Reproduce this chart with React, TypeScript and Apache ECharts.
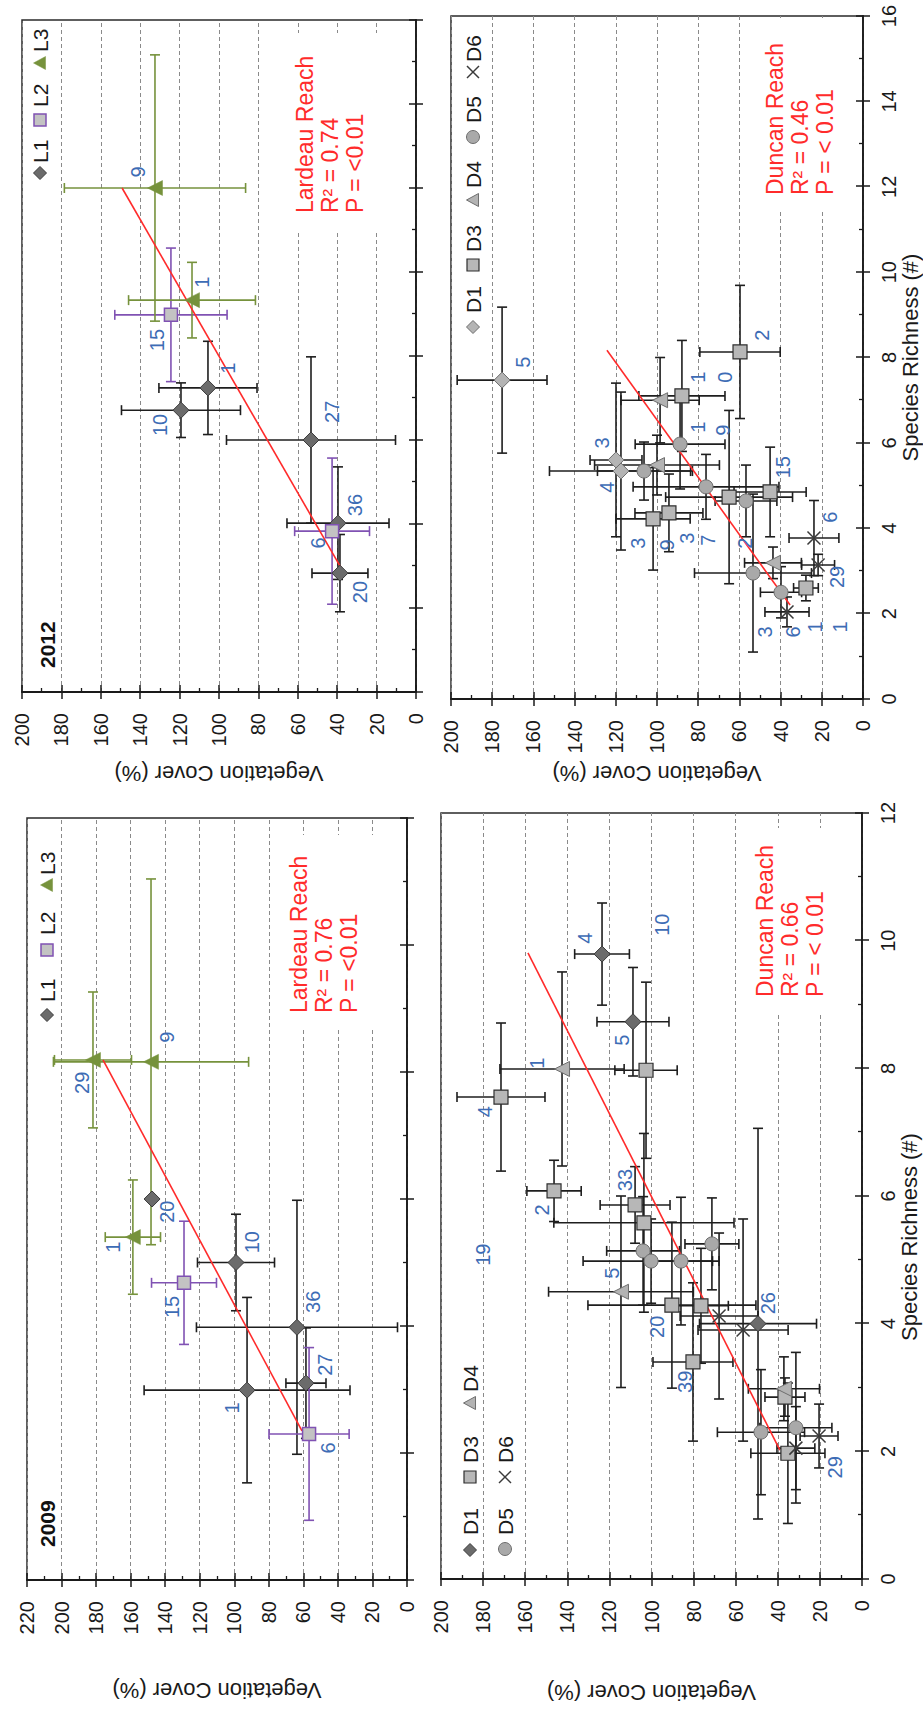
import React, { useEffect, useRef } from 'react';
import * as echarts from 'echarts';

const FONT = "'Liberation Sans', Arial, Helvetica, sans-serif";

// Figure is laid out landscape (1723 x 923) and turned a quarter turn counter-clockwise on the page.
const FIG_W = 1723;
const FIG_H = 923;

// Each row: [species richness (#), vegetation cover (%), richness SD, cover SD]
const lardeau2009L1 = [
  [6.0, 147.6, 0, 0],
  [5.0, 99.0, 0.76, 22.3],
  [3.98, 63.7, 2.0, 58.2],
  [2.99, 92.6, 1.46, 59.6],
  [3.1, 58.5, 0.87, 11.6],
];
const lardeau2009L2 = [
  [4.68, 129.1, 0.97, 18.8],
  [2.3, 56.7, 1.36, 23.2],
];
const lardeau2009L3 = [
  [8.19, 181.8, 1.07, 22.3],
  [8.16, 148.2, 2.88, 56.5],
  [5.4, 158.7, 0.9, 16.0],
];
// Plot counts: [richness, cover, text]
const lardeau2009Counts: [number, number, string][] = [
  [7.83, 188.2, '29'], [8.55, 138.9, '9'], [5.8, 138.9, '20'], [5.24, 170.2, '1'],
  [4.3, 136.0, '15'], [5.32, 89.7, '10'], [4.38, 54.4, '36'], [2.71, 101.3, '1'],
  [3.39, 47.5, '27'], [2.08, 45.7, '6'],
];
const lardeau2009Fit = [[2.35, 60.8], [8.19, 176.0]];

const lardeau2012L1 = [
  [7.24, 105.6, 1.11, 24.9],
  [6.71, 119.3, 0.65, 30.2],
  [6.0, 53.3, 1.98, 42.9],
  [4.02, 39.6, 1.34, 25.9],
  [2.83, 38.6, 0.92, 14.2],
];
const lardeau2012L2 = [
  [8.98, 124.4, 1.59, 28.5],
  [3.83, 42.6, 1.74, 19.0],
];
const lardeau2012L3 = [
  [12.0, 132.5, 3.17, 46.0],
  [9.33, 113.7, 0.9, 32.2],
];
const lardeau2012Counts: [number, number, string][] = [
  [12.38, 141.1, '9'], [9.76, 108.6, '1'], [8.38, 131.5, '15'], [7.71, 95.4, '1'],
  [6.36, 130.0, '10'], [6.67, 42.6, '27'], [4.45, 31.0, '36'], [3.55, 49.7, '6'],
  [2.38, 28.4, '20'],
];
const lardeau2012Fit = [[2.83, 36.5], [12.0, 149.2]];

const duncan2009D1 = [
  [9.79, 123.5, 0.8, 13.0],
  [8.73, 108.8, 0.85, 17.1],
  [4.0, 49.4, 3.06, 27.8],
];
const duncan2009D3 = [
  [7.97, 102.6, 1.38, 14.8],
  [7.55, 171.5, 1.16, 20.9],
  [6.08, 146.3, 0.48, 12.9],
  [5.86, 107.8, 0.6, 16.6],
  [5.58, 103.6, 1.4, 42.8],
  [4.29, 90.3, 1.3, 39.9],
  [4.28, 76.5, 0.9, 13.0],
  [3.4, 80.3, 1.24, 19.0],
  [2.85, 36.6, 0.3, 9.5],
  [1.97, 35.2, 1.1, 17.6],
];
const duncan2009D4 = [
  [7.99, 142.5, 1.52, 29.5],
  [4.5, 114.5, 1.5, 34.4],
  [2.98, 37.1, 0.5, 16.9],
];
const duncan2009D5 = [
  [5.14, 104.0, 0.85, 17.3],
  [4.98, 100.2, 0.66, 32.3],
  [4.98, 86.0, 1.0, 15.0],
  [5.25, 71.3, 0.72, 12.8],
  [2.3, 48.0, 0.98, 20.7],
  [2.37, 31.4, 1.18, 17.1],
];
const duncan2009D6 = [
  [4.12, 67.9, 1.3, 18.5],
  [3.9, 56.5, 1.74, 21.4],
  [2.24, 20.4, 0.5, 9.0],
  [2.05, 31.4, 0.65, 9.0],
];
const duncan2009Counts: [number, number, string][] = [
  [10.04, 131.6, '4'], [10.25, 95.0, '10'], [8.44, 114.0, '5'], [8.08, 154.4, '1'],
  [7.32, 179.1, '4'], [5.78, 152.0, '2'], [6.25, 112.6, '33'], [5.08, 180.0, '19'],
  [4.79, 118.8, '5'], [3.95, 97.4, '20'], [4.32, 44.7, '26'], [3.09, 84.1, '39'],
  [1.75, 12.8, '29'],
];
const duncan2009Fit = [[2.02, 39.0], [9.81, 158.7]];

const duncan2012D1 = [
  [7.47, 175.2, 1.71, 21.8],
  [5.6, 119.9, 1.8, 12.6],
  [5.34, 117.5, 1.85, 34.7],
];
const duncan2012D3 = [
  [8.13, 59.7, 1.56, 19.5],
  [7.1, 87.9, 1.3, 20.9],
  [4.73, 65.0, 2.03, 30.8],
  [4.85, 45.1, 1.05, 17.5],
  [4.22, 101.9, 1.2, 18.0],
  [4.36, 94.2, 0.91, 16.5],
  [2.6, 27.7, 0.3, 6.0],
];
const duncan2012D4 = [
  [7.0, 98.5, 1.0, 19.0],
  [5.48, 100.0, 0.7, 30.3],
  [3.19, 43.7, 0.37, 13.8],
];
const duncan2012D5 = [
  [5.97, 88.8, 1.05, 21.8],
  [5.34, 106.3, 0.68, 22.6],
  [4.97, 76.2, 0.76, 35.4],
  [4.64, 56.8, 0.84, 15.0],
  [2.95, 53.4, 1.85, 28.4],
  [2.5, 39.8, 0.6, 10.0],
];
const duncan2012D6 = [
  [3.77, 23.8, 0.88, 12.1],
  [3.14, 21.8, 0.25, 8.0],
  [2.04, 36.9, 0.35, 10.7],
];
const duncan2012Counts: [number, number, string][] = [
  [7.89, 165.0, '5'], [8.52, 49.0, '2'], [7.54, 80.1, '1'], [7.54, 67.0, '0'],
  [6.37, 80.1, '1'], [6.3, 68.0, '9'], [6.0, 126.7, '3'], [4.96, 124.3, '4'],
  [5.43, 38.8, '15'], [4.26, 16.0, '6'], [3.65, 109.2, '3'], [3.61, 95.1, '9'],
  [3.77, 85.4, '3'], [3.72, 75.2, '7'], [3.65, 57.3, '2'], [2.86, 12.6, '29'],
  [1.57, 47.6, '3'], [1.57, 34.0, '6'], [1.69, 23.3, '1'], [1.69, 11.2, '1'],
];
const duncan2012Fit = [[2.2, 35.4], [8.17, 124.3]];

const reachNames = ['Lardeau Reach', 'Lardeau Reach', 'Duncan Reach', 'Duncan Reach'];
const rSquared = ['0.76', '0.74', '0.66', '0.46'];
const pValues = ['<0.01', '<0.01', '< 0.01', '< 0.01'];
const years = ['2009', '2012', '2009', '2012'];

type MarkerStyle = {
  symbol: string; size: number; fill: string; border: string; borderWidth: number; bar: string;
};

const markerStyles: Record<string, MarkerStyle> = {
  L1: { symbol: 'diamond', size: 16, fill: '#6b6b6b', border: '#3b3b3b', borderWidth: 1, bar: '#1e1e1e' },
  L2: { symbol: 'rect', size: 13, fill: '#c3c3c3', border: '#8052b3', borderWidth: 1.5, bar: '#8052b3' },
  L3: { symbol: 'triangle', size: 15, fill: '#76923c', border: '#76923c', borderWidth: 0.5, bar: '#76923c' },
  D1dark: { symbol: 'diamond', size: 16, fill: '#6b6b6b', border: '#3b3b3b', borderWidth: 1, bar: '#1e1e1e' },
  D1light: { symbol: 'diamond', size: 16, fill: '#b4b4b4', border: '#6e6e6e', borderWidth: 1, bar: '#1e1e1e' },
  D3: { symbol: 'rect', size: 14, fill: '#b7b7b7', border: '#2e2e2e', borderWidth: 1.2, bar: '#1e1e1e' },
  D4: { symbol: 'triangle', size: 15, fill: '#b3b3b3', border: '#6e6e6e', borderWidth: 1, bar: '#1e1e1e' },
  D5: { symbol: 'circle', size: 14, fill: '#a9a9a9', border: '#6e6e6e', borderWidth: 1, bar: '#1e1e1e' },
  D6: { symbol: 'path://M0,0L10,10M10,0L0,10', size: 13, fill: 'rgba(0,0,0,0)', border: '#3a3a3a', borderWidth: 1.5, bar: '#1e1e1e' },
};

type Panel = {
  box: number[]; sMax: number; cMax: number;
  groups: [string, number[][], string][];
  fit: number[][]; counts: [number, number, string][];
  speciesAxis: boolean; speciesNamePad: number[]; coverGap: number;
  statBox: number[]; statText: number[];
  yearAt: number[] | null;
  legend: number[][]; // [group index, marker x, text x, y]
};

const panels: Panel[] = [
  {
    box: [143, 27, 762, 380], sMax: 12, cMax: 220,
    groups: [['L1', lardeau2009L1, 'L1'], ['L2', lardeau2009L2, 'L2'], ['L3', lardeau2009L3, 'L3']],
    fit: lardeau2009Fit, counts: lardeau2009Counts,
    speciesAxis: false, speciesNamePad: [0, 0, 0, 0], coverGap: 99,
    statBox: [693, 278, 195, 118], statText: [710, 286],
    yearAt: [176, 47],
    legend: [[0, 708, 721, 47], [1, 773, 788, 47], [2, 838, 848, 47]],
  },
  {
    box: [1031, 22, 672, 394], sMax: 16, cMax: 200,
    groups: [['L1', lardeau2012L1, 'L1'], ['L2', lardeau2012L2, 'L2'], ['L3', lardeau2012L3, 'L3']],
    fit: lardeau2012Fit, counts: lardeau2012Counts,
    speciesAxis: false, speciesNamePad: [0, 0, 0, 0], coverGap: 70,
    statBox: [1493, 280, 197, 116], statText: [1510, 292],
    yearAt: [1055, 47],
    legend: [[0, 1550, 1560, 40], [1, 1603, 1616, 40], [2, 1660, 1671, 40]],
  },
  {
    box: [144, 441, 766, 421], sMax: 12, cMax: 200,
    groups: [['D1', duncan2009D1, 'D1dark'], ['D3', duncan2009D3, 'D3'], ['D4', duncan2009D4, 'D4'],
      ['D5', duncan2009D5, 'D5'], ['D6', duncan2009D6, 'D6']],
    fit: duncan2009Fit, counts: duncan2009Counts,
    speciesAxis: true, speciesNamePad: [0, 82, 0, 0], coverGap: 102,
    statBox: [710, 745, 185, 100], statText: [726, 752],
    yearAt: null,
    legend: [[0, 173, 188, 470], [1, 246, 260, 470], [2, 320, 331, 470], [3, 174, 188, 505], [4, 246, 260, 505]],
  },
  {
    box: [1024, 451, 683, 412], sMax: 16, cMax: 200,
    groups: [['D1', duncan2012D1, 'D1light'], ['D3', duncan2012D3, 'D3'], ['D4', duncan2012D4, 'D4'],
      ['D5', duncan2012D5, 'D5'], ['D6', duncan2012D6, 'D6']],
    fit: duncan2012Fit, counts: duncan2012Counts,
    speciesAxis: true, speciesNamePad: [0, 0, 0, 0], coverGap: 63,
    statBox: [1511, 752, 194, 100], statText: [1528, 762],
    yearAt: null,
    legend: [[0, 1396, 1410, 473], [1, 1458, 1471, 473], [2, 1523, 1535, 473], [3, 1586, 1600, 473], [4, 1651, 1661, 473]],
  },
];

const INK = '#1a1a1a';

function errorBars(color: string) {
  return (_params: any, api: any) => {
    const s = api.value(0);
    const c = api.value(1);
    const se = api.value(2);
    const ce = api.value(3);
    const st = { stroke: color, lineWidth: 1.6 };
    const kids: any[] = [];
    const seg = (a: number[], b: number[]) =>
      kids.push({ type: 'line', shape: { x1: a[0], y1: a[1], x2: b[0], y2: b[1] }, style: st });
    const cap = 5;
    if (se > 0) {
      const a = api.coord([s - se, c]);
      const b = api.coord([s + se, c]);
      seg(a, b);
      seg([a[0], a[1] - cap], [a[0], a[1] + cap]);
      seg([b[0], b[1] - cap], [b[0], b[1] + cap]);
    }
    if (ce > 0) {
      const a = api.coord([s, c - ce]);
      const b = api.coord([s, c + ce]);
      seg(a, b);
      seg([a[0] - cap, a[1]], [a[0] + cap, a[1]]);
      seg([b[0] - cap, b[1]], [b[0] + cap, b[1]]);
    }
    return { type: 'group', children: kids };
  };
}

function legendMarker(key: string, cx: number, cy: number): any {
  const m = markerStyles[key];
  const style = { fill: m.fill, stroke: m.border, lineWidth: m.borderWidth };
  const r = 6.5;
  if (m.symbol === 'diamond') {
    return { type: 'polygon', shape: { points: [[cx, cy - r], [cx + r, cy], [cx, cy + r], [cx - r, cy]] }, style, z: 20 };
  }
  if (m.symbol === 'triangle') {
    return { type: 'polygon', shape: { points: [[cx, cy - r], [cx + r, cy + r * 0.85], [cx - r, cy + r * 0.85]] }, style, z: 20 };
  }
  if (m.symbol === 'rect') {
    return { type: 'rect', shape: { x: cx - 6, y: cy - 6, width: 12, height: 12 }, style, z: 20 };
  }
  if (m.symbol === 'circle') {
    return { type: 'circle', shape: { cx, cy, r: 6.5 }, style, z: 20 };
  }
  return {
    type: 'group', z: 20,
    children: [
      { type: 'line', shape: { x1: cx - 6, y1: cy - 6, x2: cx + 6, y2: cy + 6 }, style: { stroke: m.border, lineWidth: 1.5 }, z: 20 },
      { type: 'line', shape: { x1: cx + 6, y1: cy - 6, x2: cx - 6, y2: cy + 6 }, style: { stroke: m.border, lineWidth: 1.5 }, z: 20 },
    ],
  };
}

function buildOption(): any {
  const grid: any[] = [];
  const xAxis: any[] = [];
  const yAxis: any[] = [];
  const series: any[] = [];
  const graphic: any[] = [];

  panels.forEach((p, i) => {
    grid.push({
      left: p.box[0], top: p.box[1], width: p.box[2], height: p.box[3],
      show: true, borderColor: '#2a2a2a', borderWidth: 1.5, backgroundColor: 'transparent',
    });
    const xi = xAxis.length;
    const yi = yAxis.length;
    const tickLine = { color: INK, width: 1.5 };

    xAxis.push({
      type: 'value', gridIndex: i, min: 0, max: p.sMax, interval: 2, position: 'bottom',
      axisLine: { show: true, onZero: false, lineStyle: { color: INK, width: 1.8 } },
      axisTick: { show: true, inside: false, length: 7, lineStyle: tickLine },
      axisLabel: { show: p.speciesAxis, margin: 16, fontSize: 20, color: INK, fontFamily: FONT },
      splitLine: { show: false },
      name: p.speciesAxis ? 'Species Richness (#)' : '',
      nameLocation: 'middle', nameGap: 36,
      nameTextStyle: { fontSize: 22, color: INK, fontFamily: FONT, padding: p.speciesNamePad },
    });
    xAxis.push({
      type: 'value', gridIndex: i, min: 0, max: p.sMax, interval: 2, position: 'bottom',
      axisLine: { show: false, onZero: false },
      axisTick: { show: true, inside: true, length: 7, lineStyle: tickLine },
      minorTick: { show: true, splitNumber: 2, length: 4, lineStyle: { color: INK, width: 1.3 } },
      axisLabel: { show: false },
      splitLine: { show: false },
    });
    yAxis.push({
      type: 'value', gridIndex: i, min: 0, max: p.cMax, interval: 20, position: 'left',
      axisLine: { show: true, onZero: false, lineStyle: { color: INK, width: 1.8 } },
      axisTick: { show: true, inside: false, length: 7, lineStyle: tickLine },
      axisLabel: { show: true, margin: 21, fontSize: 20, color: INK, fontFamily: FONT },
      splitLine: { show: true, lineStyle: { color: '#8a8a8a', width: 1, type: [4, 3] } },
      name: 'Vegetation Cover (%)', nameLocation: 'middle', nameRotate: 90, nameGap: p.coverGap,
      nameTextStyle: { fontSize: 22, color: INK, fontFamily: FONT },
    });
    yAxis.push({
      type: 'value', gridIndex: i, min: 0, max: p.cMax, interval: 20, position: 'left',
      axisLine: { show: false, onZero: false },
      axisTick: { show: true, inside: true, length: 7, lineStyle: tickLine },
      minorTick: { show: true, splitNumber: 2, length: 4, lineStyle: { color: INK, width: 1.3 } },
      axisLabel: { show: false },
      splitLine: { show: false },
    });

    // error bars under the markers
    p.groups.forEach(([name, rows, key]) => {
      series.push({
        type: 'custom', name: `${name} SD`, xAxisIndex: xi, yAxisIndex: yi, clip: false, silent: true, z: 3,
        data: rows, renderItem: errorBars(markerStyles[key].bar),
      });
    });
    // regression line
    series.push({
      type: 'line', xAxisIndex: xi, yAxisIndex: yi, data: p.fit, symbol: 'none', silent: true, z: 4,
      lineStyle: { color: '#ff2b2b', width: 1.6 },
    });
    // markers
    p.groups.forEach(([name, rows, key]) => {
      const m = markerStyles[key];
      series.push({
        type: 'scatter', name, xAxisIndex: xi, yAxisIndex: yi, z: 5, silent: true,
        data: rows.map((r) => [r[0], r[1]]),
        symbol: m.symbol, symbolSize: m.size,
        itemStyle: { color: m.fill, borderColor: m.border, borderWidth: m.borderWidth, opacity: 1 },
      });
    });
    // plot counts
    series.push({
      type: 'custom', xAxisIndex: xi, yAxisIndex: yi, clip: false, silent: true, z: 6,
      data: p.counts.map((r) => [r[0], r[1]]),
      renderItem: (params: any, api: any) => {
        const pt = api.coord([api.value(0), api.value(1)]);
        return {
          type: 'text', x: pt[0], y: pt[1],
          style: {
            text: p.counts[params.dataIndex][2], fill: '#3d6cb5', fontSize: 20, fontFamily: FONT,
            align: 'center', verticalAlign: 'middle',
          },
        };
      },
    });

    // regression statistics on a white panel
    graphic.push({
      type: 'rect', z: 10, silent: true,
      shape: { x: p.statBox[0], y: p.statBox[1], width: p.statBox[2], height: p.statBox[3] },
      style: { fill: '#ffffff' },
    });
    graphic.push({
      type: 'text', z: 11, silent: true, x: p.statText[0], y: p.statText[1],
      style: {
        text: `${reachNames[i]}\nR² = ${rSquared[i]}\nP = ${pValues[i]}`,
        fill: '#ff2b2b', fontSize: 23, fontFamily: FONT, lineHeight: 25, verticalAlign: 'top', align: 'left',
      },
    });
    if (p.yearAt) {
      graphic.push({
        type: 'text', z: 11, silent: true, x: p.yearAt[0], y: p.yearAt[1],
        style: { text: years[i], fill: '#111', fontSize: 21, fontWeight: 'bold', fontFamily: FONT, verticalAlign: 'middle', align: 'left' },
      });
    }
    p.legend.forEach(([gi, mx, tx, y]) => {
      const [name, , key] = p.groups[gi];
      graphic.push(legendMarker(key, mx, y));
      graphic.push({
        type: 'text', z: 20, silent: true, x: tx, y,
        style: { text: name, fill: INK, fontSize: 21, fontFamily: FONT, verticalAlign: 'middle', align: 'left' },
      });
    });
  });

  return { animation: false, backgroundColor: '#ffffff', grid, xAxis, yAxis, series, graphic };
}

export default function App() {
  const ref = useRef<HTMLDivElement>(null);
  useEffect(() => {
    if (!ref.current) return;
    const chart = echarts.init(ref.current, undefined, { renderer: 'svg' });
    chart.setOption(buildOption());
    return () => chart.dispose();
  }, []);
  return (
    <div style={{ position: 'fixed', left: 0, top: 0, width: FIG_H, height: FIG_W, overflow: 'hidden', background: '#fff' }}>
      <div
        ref={ref}
        style={{
          position: 'absolute', left: 0, top: 0, width: FIG_W, height: FIG_H,
          transformOrigin: '0 0', transform: `translate(0px, ${FIG_W}px) rotate(-90deg)`,
        }}
      />
    </div>
  );
}
